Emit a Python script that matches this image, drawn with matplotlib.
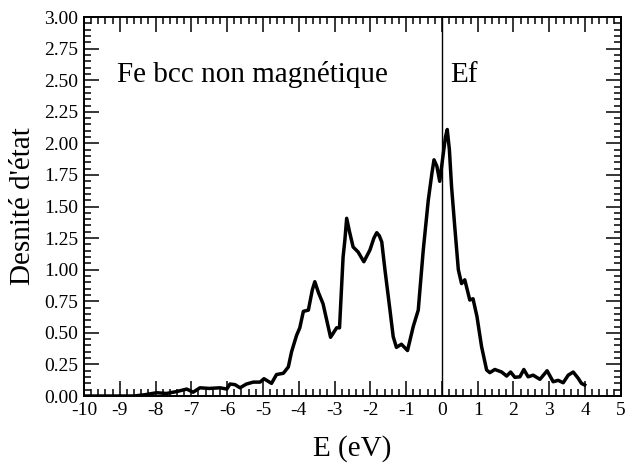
import numpy as np
import matplotlib
matplotlib.use("Agg")
import matplotlib.pyplot as plt
from matplotlib.ticker import MultipleLocator, FormatStrFormatter

# densite d'etat du fer bcc non magnetique
energy = [-10.0, -8.6, -8.3, -7.97, -7.7, -7.41, -7.13, -6.95, -6.76, -6.5, -6.2,
          -6.01, -5.92, -5.78, -5.64, -5.46, -5.27, -5.08, -4.97, -4.76, -4.62,
          -4.43, -4.29, -4.2, -4.06, -3.97, -3.87, -3.73, -3.62, -3.55, -3.45,
          -3.32, -3.11, -2.94, -2.86, -2.76, -2.71, -2.66, -2.58, -2.48, -2.34,
          -2.18, -2.01, -1.90, -1.82, -1.75, -1.68, -1.59, -1.45, -1.36, -1.27,
          -1.13, -0.96, -0.80, -0.66, -0.52, -0.38, -0.28, -0.22, -0.14, -0.06,
          0.04, 0.10, 0.15, 0.21, 0.27, 0.36, 0.46, 0.55, 0.64, 0.78,
          0.87, 0.98, 1.11, 1.25, 1.34, 1.48, 1.67, 1.81, 1.92, 2.04, 2.18,
          2.29, 2.41, 2.55, 2.74, 2.94, 3.11, 3.25, 3.39, 3.53, 3.67, 3.81,
          3.90, 3.99]
dos = [0.0, 0.0, 0.01, 0.026, 0.02, 0.035, 0.055, 0.03, 0.065, 0.06, 0.065,
       0.055, 0.095, 0.09, 0.065, 0.095, 0.11, 0.11, 0.137, 0.10, 0.17,
       0.18, 0.23, 0.35, 0.48, 0.54, 0.67, 0.68, 0.84, 0.905, 0.82,
       0.73, 0.465, 0.54, 0.54, 1.10, 1.235, 1.407, 1.30, 1.18, 1.14,
       1.063, 1.156, 1.25, 1.293, 1.27, 1.22, 0.998, 0.68, 0.47, 0.385,
       0.41, 0.36, 0.55, 0.68, 1.156, 1.55, 1.76, 1.87, 1.82, 1.70,
       1.92, 2.05, 2.11, 1.95, 1.66, 1.34, 1.00, 0.89, 0.92, 0.76,
       0.77, 0.63, 0.39, 0.206, 0.185, 0.21, 0.19, 0.158, 0.19, 0.148, 0.152,
       0.21, 0.152, 0.165, 0.132, 0.20, 0.113, 0.124, 0.105, 0.165, 0.19, 0.14,
       0.10, 0.087]

plt.rcParams['font.family'] = ['Liberation Serif', 'DejaVu Serif']
plt.rcParams['axes.unicode_minus'] = False

fig = plt.figure(figsize=(6.29, 4.75), dpi=100)
ax = fig.add_axes([0.1335, 0.1663, 0.8535, 0.7977])

ax.plot(energy, dos, color='black', lw=2.5)
ax.axvline(0, color='black', lw=1.0)

ax.set_xlim(-10, 5)
ax.set_ylim(0, 3)
ax.xaxis.set_major_locator(MultipleLocator(1))
ax.xaxis.set_minor_locator(MultipleLocator(0.2))
ax.yaxis.set_major_locator(MultipleLocator(0.25))
ax.yaxis.set_minor_locator(MultipleLocator(0.05))
ax.yaxis.set_major_formatter(FormatStrFormatter('%.2f'))
ax.tick_params(which='both', direction='in', top=True, right=True, width=1.1,
               labelsize=14)
ax.tick_params(which='major', length=11, pad=4)
ax.tick_params(which='minor', length=5)
for s in ax.spines.values():
    s.set_linewidth(1.4)

ax.set_xlabel('E (eV)', fontsize=21, labelpad=12)
ax.set_ylabel("Desnité d'état", fontsize=21, labelpad=6)
ax.text(-9.08, 2.49, 'Fe bcc non magnétique', fontsize=21)
ax.text(0.22, 2.49, 'Ef', fontsize=21)

fig.savefig('out.png', dpi=100)
